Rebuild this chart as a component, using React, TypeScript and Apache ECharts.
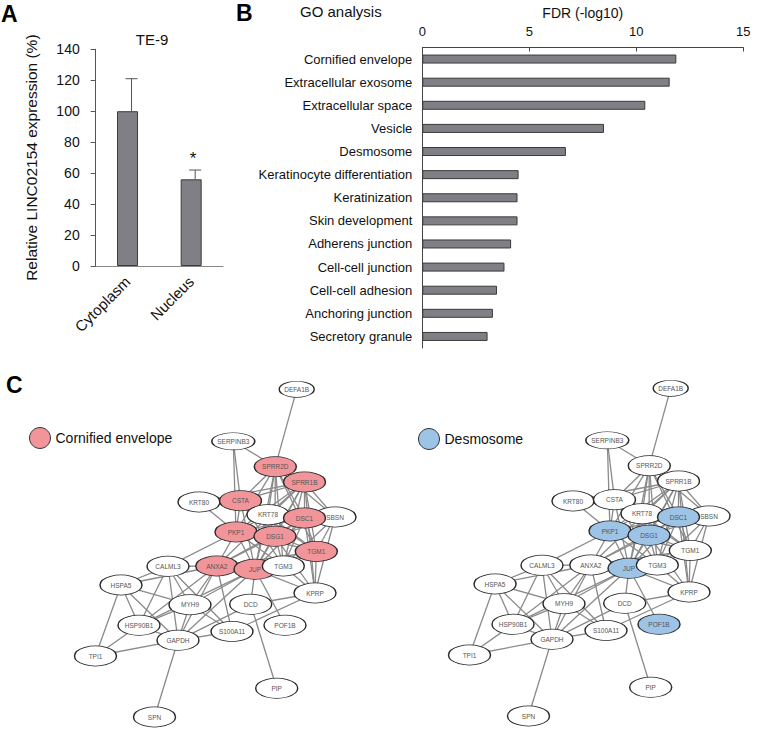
import React, { useEffect, useRef } from "react";
import * as echarts from "echarts";

// ---------- Panel A data ----------
const expCategories = ["Cytoplasm", "Nucleus"];
const expValues = [100, 56];
const expErrors = [21, 6];
const expMarks = ["", "*"];

// ---------- Panel B data ----------
const goTerms = [
  "Cornified envelope",
  "Extracellular exosome",
  "Extracellular space",
  "Vesicle",
  "Desmosome",
  "Keratinocyte differentiation",
  "Keratinization",
  "Skin development",
  "Adherens junction",
  "Cell-cell junction",
  "Cell-cell adhesion",
  "Anchoring junction",
  "Secretory granule",
];
const goFdr = [11.87, 11.56, 10.42, 8.49, 6.71, 4.5, 4.45, 4.45, 4.15, 3.84, 3.49, 3.3, 3.05];

// ---------- Panel C data (network layout) ----------
const networkNodes = [
  { name: "DEFA1B", x: 296.7, y: 389.3 },
  { name: "SERPINB3", x: 233.3, y: 441.3 },
  { name: "SPRR2D", x: 275.3, y: 466.7 },
  { name: "SPRR1B", x: 304.5, y: 482 },
  { name: "KRT80", x: 199, y: 502 },
  { name: "CSTA", x: 240.5, y: 500.7 },
  { name: "KRT78", x: 268, y: 514.7 },
  { name: "SBSN", x: 335, y: 517 },
  { name: "DSC1", x: 304.5, y: 518 },
  { name: "PKP1", x: 236, y: 532 },
  { name: "DSG1", x: 275, y: 536.3 },
  { name: "TGM1", x: 316.3, y: 551.5 },
  { name: "CALML3", x: 168, y: 566.3 },
  { name: "ANXA2", x: 216.8, y: 566 },
  { name: "JUP", x: 255, y: 569.3 },
  { name: "TGM3", x: 283.3, y: 566 },
  { name: "HSPA5", x: 121, y: 585 },
  { name: "KPRP", x: 315, y: 593 },
  { name: "MYH9", x: 190, y: 604.7 },
  { name: "DCD", x: 250.7, y: 604.3 },
  { name: "HSP90B1", x: 139, y: 625.3 },
  { name: "POF1B", x: 285, y: 625.3 },
  { name: "S100A11", x: 232, y: 631.5 },
  { name: "GAPDH", x: 178, y: 640.3 },
  { name: "TPI1", x: 95.5, y: 656 },
  { name: "PIP", x: 276.7, y: 688.3 },
  { name: "SPN", x: 154.5, y: 717 },
];

const networkEdges = [
  ["SPRR2D", "SPRR1B"], ["SPRR2D", "CSTA"], ["SPRR2D", "KRT78"], ["SPRR2D", "DSC1"], ["SPRR2D", "PKP1"],
  ["SPRR2D", "DSG1"], ["SPRR2D", "TGM1"], ["SPRR2D", "JUP"], ["SPRR2D", "SBSN"], ["SPRR2D", "TGM3"],
  ["SPRR1B", "CSTA"], ["SPRR1B", "KRT78"], ["SPRR1B", "DSC1"], ["SPRR1B", "SBSN"], ["SPRR1B", "PKP1"],
  ["SPRR1B", "DSG1"], ["SPRR1B", "TGM1"], ["SPRR1B", "JUP"], ["SPRR1B", "TGM3"], ["SPRR1B", "KPRP"],
  ["CSTA", "KRT78"], ["CSTA", "DSC1"], ["CSTA", "PKP1"], ["CSTA", "DSG1"], ["CSTA", "JUP"],
  ["CSTA", "TGM1"], ["CSTA", "TGM3"],
  ["KRT78", "DSC1"], ["KRT78", "PKP1"], ["KRT78", "DSG1"], ["KRT78", "JUP"], ["KRT78", "TGM1"],
  ["DSC1", "SBSN"], ["DSC1", "PKP1"], ["DSC1", "DSG1"], ["DSC1", "TGM1"], ["DSC1", "JUP"],
  ["DSC1", "TGM3"], ["DSC1", "KPRP"],
  ["SBSN", "TGM1"], ["SBSN", "DSG1"], ["SBSN", "KPRP"], ["SBSN", "TGM3"],
  ["PKP1", "DSG1"], ["PKP1", "JUP"], ["PKP1", "ANXA2"], ["PKP1", "TGM3"], ["PKP1", "TGM1"],
  ["DSG1", "TGM1"], ["DSG1", "JUP"], ["DSG1", "TGM3"], ["DSG1", "ANXA2"], ["DSG1", "KPRP"],
  ["TGM1", "JUP"], ["TGM1", "TGM3"], ["TGM1", "KPRP"],
  ["JUP", "TGM3"], ["JUP", "ANXA2"], ["JUP", "KPRP"],
  ["TGM3", "KPRP"], ["TGM3", "ANXA2"],
  ["ANXA2", "SPRR1B"], ["ANXA2", "TGM1"], ["ANXA2", "DSC1"],
  ["DEFA1B", "SPRR2D"], ["SERPINB3", "SPRR2D"], ["SERPINB3", "CSTA"], ["SERPINB3", "PKP1"],
  ["KRT80", "CSTA"], ["KRT80", "PKP1"], ["KRT80", "SPRR1B"],
  ["CALML3", "PKP1"], ["CALML3", "ANXA2"], ["CALML3", "HSPA5"], ["CALML3", "MYH9"], ["CALML3", "GAPDH"],
  ["CALML3", "HSP90B1"], ["CALML3", "S100A11"],
  ["HSPA5", "TPI1"], ["HSPA5", "HSP90B1"], ["HSPA5", "GAPDH"], ["HSPA5", "MYH9"], ["HSPA5", "ANXA2"],
  ["HSP90B1", "TPI1"], ["HSP90B1", "GAPDH"], ["HSP90B1", "MYH9"], ["HSP90B1", "ANXA2"], ["HSP90B1", "JUP"],
  ["TPI1", "GAPDH"],
  ["GAPDH", "SPN"], ["GAPDH", "MYH9"], ["GAPDH", "ANXA2"], ["GAPDH", "JUP"], ["GAPDH", "S100A11"], ["GAPDH", "DCD"],
  ["MYH9", "ANXA2"], ["MYH9", "JUP"], ["MYH9", "S100A11"],
  ["ANXA2", "S100A11"],
  ["DCD", "JUP"], ["DCD", "PIP"], ["DCD", "KPRP"],
  ["POF1B", "JUP"], ["S100A11", "KPRP"],
];

const cornifiedMembers = ["SPRR2D", "SPRR1B", "CSTA", "DSC1", "PKP1", "DSG1", "TGM1", "ANXA2", "JUP"];
const desmosomeMembers = ["DSC1", "PKP1", "DSG1", "JUP", "POF1B"];

// ---------- styles ----------
const FONT = "'Liberation Sans', Arial, Helvetica, sans-serif";
const BAR_FILL = "#807f85";
const BAR_EDGE = "#3a3a3a";
const PINK = "#f2959a";
const BLUE = "#9dc3e6";
const nodeSizeOverrides: Record<string, number[]> = {
  DEFA1B: [35, 16],
  SERPINB3: [43, 17],
};

export default function App() {
  const ref = useRef<HTMLDivElement>(null);

  useEffect(() => {
    document.body.style.margin = "0";
    const chart = echarts.init(ref.current!, null, { renderer: "svg" });

    const xs = networkNodes.map((n) => n.x);
    const ys = networkNodes.map((n) => n.y);
    const minX = Math.min(...xs);
    const maxX = Math.max(...xs);
    const minY = Math.min(...ys);
    const maxY = Math.max(...ys);
    const netW = maxX - minX;
    const netH = maxY - minY;

    const buildGraph = (members: string[], color: string, catName: string, left: number, top: number) => ({
      type: "graph",
      layout: "none",
      left,
      top,
      width: netW,
      height: netH,
      roam: false,
      silent: true,
      symbol: "circle",
      categories: [
        { name: catName, itemStyle: { color } },
        { name: "other", itemStyle: { color: "#ffffff" } },
      ],
      data: networkNodes.map((n) => ({
        name: n.name,
        x: n.x,
        y: n.y,
        category: members.includes(n.name) ? 0 : 1,
        symbolSize: nodeSizeOverrides[n.name] || [42, 20],
      })),
      links: networkEdges.map(([s, t]) => ({ source: s, target: t })),
      itemStyle: { borderColor: "#2a2a2a", borderWidth: 1 },
      lineStyle: { color: "#8a8a8a", width: 1.3, opacity: 1, curveness: 0 },
      label: { show: true, position: "inside", fontSize: 6.5, color: "#555", fontFamily: FONT },
      emphasis: { disabled: true },
    });

    const option: any = {
      animation: false,
      backgroundColor: "#ffffff",
      textStyle: { fontFamily: FONT, color: "#111" },
      title: [
        {
          text: "TE-9",
          left: 152,
          top: 32,
          textAlign: "center",
          padding: 0,
          textStyle: { fontSize: 15, fontWeight: "normal", color: "#111", fontFamily: FONT },
        },
        {
          text: "GO analysis",
          left: 300,
          top: 4,
          padding: 0,
          textStyle: { fontSize: 15, fontWeight: "normal", color: "#111", fontFamily: FONT },
        },
      ],
      graphic: [
        { type: "text", left: 1, top: 2, style: { text: "A", fontSize: 23, fontWeight: "bold", fill: "#000", fontFamily: FONT } },
        { type: "text", left: 236, top: 1, style: { text: "B", fontSize: 23, fontWeight: "bold", fill: "#000", fontFamily: FONT } },
        { type: "text", left: 6, top: 373, style: { text: "C", fontSize: 23, fontWeight: "bold", fill: "#000", fontFamily: FONT } },
      ],
      legend: [
        {
          data: ["Cornified envelope"],
          left: 29,
          top: 427,
          icon: "circle",
          itemWidth: 21,
          itemHeight: 21,
          padding: 0,
          selectedMode: false,
          itemStyle: { borderColor: "#333", borderWidth: 1 },
          textStyle: { fontSize: 14, color: "#111", fontFamily: FONT },
        },
        {
          data: ["Desmosome"],
          left: 418,
          top: 428,
          icon: "circle",
          itemWidth: 21,
          itemHeight: 21,
          padding: 0,
          selectedMode: false,
          itemStyle: { borderColor: "#333", borderWidth: 1 },
          textStyle: { fontSize: 14, color: "#111", fontFamily: FONT },
        },
      ],
      grid: [
        { left: 95.7, top: 49.3, width: 127.3, height: 216.7, outerBoundsMode: "none" },
        { left: 422.3, top: 47.5, width: 321, height: 300.5, outerBoundsMode: "none" },
      ],
      xAxis: [
        {
          gridIndex: 0,
          type: "category",
          data: expCategories,
          axisLine: { lineStyle: { color: "#888", width: 1 } },
          axisTick: { show: false },
          axisLabel: { rotate: 45, fontSize: 15, color: "#111", margin: 13, fontFamily: FONT },
        },
        {
          gridIndex: 1,
          type: "value",
          position: "top",
          min: 0,
          max: 15,
          interval: 5,
          name: "FDR (-log10)",
          nameLocation: "middle",
          nameGap: 28,
          nameTextStyle: { fontSize: 14, color: "#111", fontFamily: FONT },
          axisLine: { show: true, lineStyle: { color: "#444", width: 1 } },
          axisTick: { show: true, inside: true, length: 4, lineStyle: { color: "#444" } },
          axisLabel: { fontSize: 13, color: "#111", margin: 10, fontFamily: FONT },
          splitLine: { show: false },
        },
      ],
      yAxis: [
        {
          gridIndex: 0,
          type: "value",
          min: 0,
          max: 140,
          interval: 20,
          name: "Relative LINC02154 expression (%)",
          nameLocation: "middle",
          nameGap: 56,
          nameTextStyle: { fontSize: 15.5, color: "#111", fontFamily: FONT },
          axisLine: { show: true, lineStyle: { color: "#555", width: 1 } },
          axisTick: { show: true, length: 5, lineStyle: { color: "#555" } },
          axisLabel: { fontSize: 14, color: "#111", margin: 16, fontFamily: FONT },
          splitLine: { show: false },
        },
        {
          gridIndex: 1,
          type: "category",
          inverse: true,
          data: goTerms,
          axisLine: { show: true, lineStyle: { color: "#444", width: 1 } },
          axisTick: { show: false },
          axisLabel: { fontSize: 13, color: "#111", margin: 10, fontFamily: FONT },
        },
      ],
      series: [
        {
          type: "bar",
          xAxisIndex: 0,
          yAxisIndex: 0,
          data: expValues,
          barWidth: 21,
          itemStyle: { color: BAR_FILL, borderColor: BAR_EDGE, borderWidth: 1 },
          silent: true,
        },
        {
          type: "custom",
          xAxisIndex: 0,
          yAxisIndex: 0,
          silent: true,
          data: expValues.map((v, i) => [i, v, v + expErrors[i]]),
          renderItem: (params: any, api: any) => {
            const base = api.coord([api.value(0), api.value(1)]);
            const top = api.coord([api.value(0), api.value(2)]);
            const x = base[0] + 4;
            const children: any[] = [
              { type: "line", shape: { x1: x, y1: base[1], x2: x, y2: top[1] }, style: { stroke: "#555", lineWidth: 1 } },
              { type: "line", shape: { x1: x - 6, y1: top[1], x2: x + 6, y2: top[1] }, style: { stroke: "#555", lineWidth: 1 } },
            ];
            const mark = expMarks[params.dataIndex];
            if (mark) {
              children.push({
                type: "text",
                style: {
                  text: mark,
                  x: x - 2,
                  y: top[1] - 3,
                  align: "center",
                  verticalAlign: "bottom",
                  fontSize: 17,
                  fill: "#111",
                  fontFamily: FONT,
                },
              });
            }
            return { type: "group", children };
          },
        },
        {
          type: "bar",
          xAxisIndex: 1,
          yAxisIndex: 1,
          data: goFdr,
          barWidth: 9,
          itemStyle: { color: BAR_FILL, borderColor: BAR_EDGE, borderWidth: 1 },
          silent: true,
        },
        buildGraph(cornifiedMembers, PINK, "Cornified envelope", minX, minY),
        buildGraph(desmosomeMembers, BLUE, "Desmosome", minX + 374, minY - 1),
      ],
    };

    chart.setOption(option);
    return () => chart.dispose();
  }, []);

  return <div ref={ref} style={{ width: 764, height: 731 }} />;
}
